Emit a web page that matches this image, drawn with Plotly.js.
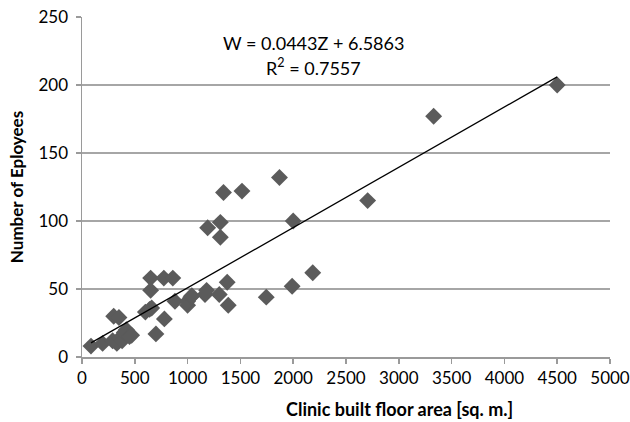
<!DOCTYPE html>
<html>
<head>
<meta charset="utf-8">
<script src="https://cdn.plot.ly/plotly-3.0.1.min.js"></script>
<style>html,body{margin:0;padding:0;background:#fff;}#chart{width:630px;height:422px;}</style>
</head>
<body>
<div id="chart"></div>
<script>
// Clinic built floor area [sq. m.]
const floorArea = [85, 195, 290, 300, 350, 330, 360, 380, 400, 420, 450, 470, 600, 640, 650, 650, 660, 700, 775, 780, 860, 880, 1000, 1000, 1030, 1040, 1165, 1180, 1190, 1300, 1310, 1310, 1340, 1375, 1385, 1515, 1745, 1870, 1990, 2000, 2185, 2705, 3330, 4500];
// Number of employees
const employees = [8, 10, 12, 30, 29, 10, 14, 12, 18, 20, 15, 16, 33, 35, 49, 58, 36, 17, 58, 28, 58, 41, 38, 41, 44, 45, 46, 49, 95, 46, 99, 88, 121, 55, 38, 122, 44, 132, 52, 100, 62, 115, 177, 200];
// Trend line (as printed on the chart)
const slope = 0.0443;
const intercept = 6.5863;
const rSquared = 0.7557;
const xTicks = [0, 500, 1000, 1500, 2000, 2500, 3000, 3500, 4000, 4500, 5000];
const yTicks = [0, 50, 100, 150, 200, 250];

const xMin = Math.min(...floorArea), xMax = Math.max(...floorArea);
const trendX = [xMin, xMax];
const trendY = trendX.map(x => slope * x + intercept);

const font = "Lato, 'Open Sans', 'Liberation Sans', sans-serif";

const data = [
  {
    x: floorArea, y: employees, type: 'scatter', mode: 'markers',
    marker: {symbol: 'diamond', size: 13, color: '#5b5b5b', line: {width: 0}},
    hoverinfo: 'skip'
  },
  {
    x: trendX, y: trendY, type: 'scatter', mode: 'lines',
    line: {color: '#000000', width: 1.3}, hoverinfo: 'skip'
  }
];

const layout = {
  width: 630, height: 422,
  margin: {l: 82, r: 20, t: 17, b: 65},
  paper_bgcolor: '#ffffff', plot_bgcolor: '#ffffff',
  showlegend: false,
  font: {family: font, size: 17, color: '#000'},
  xaxis: {
    range: [0, 5000], tickvals: xTicks, ticktext: xTicks.map(String),
    showgrid: false, zeroline: false,
    showline: true, linecolor: '#9a9a9a', linewidth: 1.5,
    ticks: 'outside', ticklen: 5, tickcolor: '#9a9a9a', tickwidth: 1.5,
    tickfont: {family: font, size: 17, color: '#000'}
  },
  yaxis: {
    range: [0, 250], tickvals: yTicks, ticktext: yTicks.map(String),
    showgrid: true, gridcolor: '#a6a6a6', gridwidth: 1.3, zeroline: false,
    showline: true, linecolor: '#9a9a9a', linewidth: 1.5,
    ticks: 'outside', ticklen: 5, tickcolor: '#9a9a9a', tickwidth: 1.5,
    ticklabelstandoff: 4,
    tickfont: {family: font, size: 17, color: '#000'},
    title: {text: 'Number of Eployees', font: {family: font, size: 17, color: '#000', weight: 'bold'}, standoff: 10}
  },
  annotations: [
    {
      xref: 'paper', yref: 'paper', x: (399 - 82) / 528, y: (357 - 409) / 340,
      xanchor: 'center', yanchor: 'middle', showarrow: false,
      text: '<b>Clinic built floor area [sq. m.]</b>',
      font: {family: font, size: 18, color: '#000'}
    },
    {
      xref: 'x', yref: 'y', x: 2190, y: 231, xanchor: 'center', yanchor: 'middle', showarrow: false,
      text: 'W = ' + slope.toFixed(4) + 'Z + ' + intercept.toFixed(4),
      font: {family: font, size: 18, color: '#000'}
    },
    {
      xref: 'x', yref: 'y', x: 2190, y: 213, xanchor: 'center', yanchor: 'middle', showarrow: false,
      text: 'R<sup>2</sup> = ' + rSquared.toFixed(4),
      font: {family: font, size: 18, color: '#000'}
    }
  ]
};

Plotly.newPlot('chart', data, layout, {displayModeBar: false, staticPlot: true});
</script>
</body>
</html>
